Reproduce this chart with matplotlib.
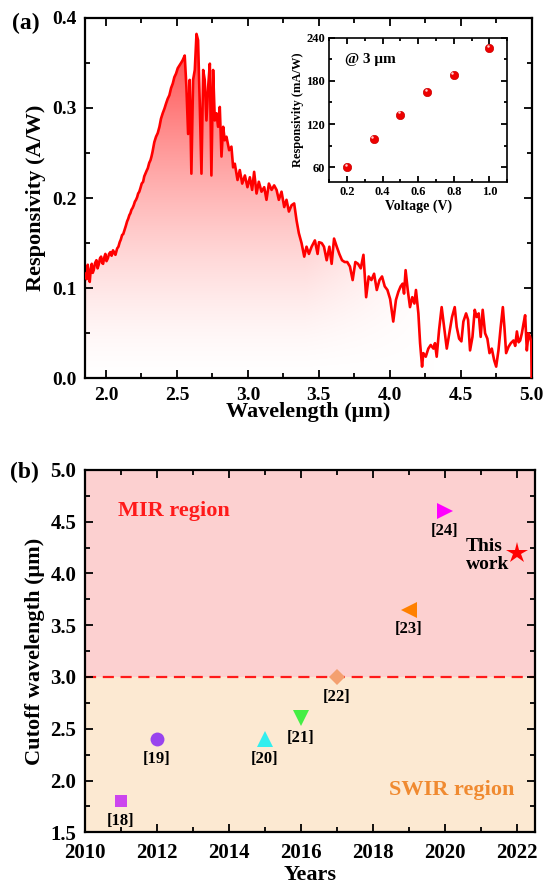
import numpy as np
import matplotlib
matplotlib.use('Agg')
import matplotlib.pyplot as plt
from matplotlib.ticker import MultipleLocator

plt.rcParams['font.family'] = ['Liberation Serif', 'DejaVu Serif']
plt.rcParams['font.weight'] = 'bold'
plt.rcParams['axes.labelweight'] = 'bold'

# ---- panel (a): responsivity spectrum ----
wavelength = [1.855, 1.864, 1.872, 1.879, 1.886, 1.893, 1.900, 1.907, 1.914, 1.924,
              1.933, 1.941, 1.949, 1.958, 1.966, 1.973, 1.980, 1.988, 1.996, 2.004,
              2.013, 2.022, 2.031, 2.040, 2.050, 2.058, 2.067, 2.079, 2.088, 2.097,
              2.105, 2.114, 2.122, 2.130, 2.140, 2.149, 2.157, 2.165, 2.172, 2.180,
              2.188, 2.196, 2.204, 2.212, 2.220, 2.227, 2.235, 2.243, 2.252, 2.262,
              2.270, 2.278, 2.286, 2.295, 2.305, 2.314, 2.321, 2.328, 2.341, 2.353,
              2.365, 2.377, 2.388, 2.400, 2.412, 2.424, 2.435, 2.447, 2.459, 2.471,
              2.482, 2.494, 2.506, 2.518, 2.530, 2.541, 2.555, 2.567, 2.579, 2.590,
              2.602, 2.614, 2.626, 2.638, 2.649, 2.661, 2.673, 2.685, 2.696, 2.708,
              2.720, 2.732, 2.743, 2.755, 2.767, 2.779, 2.790, 2.802, 2.814, 2.826,
              2.837, 2.849, 2.868, 2.884, 2.896, 2.908, 2.927, 2.943, 2.960, 2.979,
              2.997, 3.014, 3.030, 3.044, 3.061, 3.077, 3.096, 3.115, 3.131, 3.148,
              3.167, 3.185, 3.202, 3.218, 3.237, 3.256, 3.272, 3.289, 3.308, 3.326,
              3.343, 3.359, 3.378, 3.397, 3.413, 3.430, 3.449, 3.472, 3.491, 3.501,
              3.520, 3.536, 3.555, 3.574, 3.590, 3.607, 3.626, 3.644, 3.663, 3.682,
              3.700, 3.719, 3.738, 3.757, 3.776, 3.795, 3.814, 3.833, 3.851, 3.870,
              3.889, 3.908, 3.927, 3.945, 3.964, 3.983, 4.002, 4.024, 4.043, 4.060,
              4.076, 4.090, 4.100, 4.111, 4.126, 4.142, 4.158, 4.173, 4.184, 4.201,
              4.213, 4.227, 4.236, 4.253, 4.271, 4.288, 4.307, 4.318, 4.330, 4.347,
              4.365, 4.382, 4.401, 4.419, 4.438, 4.457, 4.471, 4.488, 4.504, 4.518,
              4.537, 4.551, 4.565, 4.582, 4.598, 4.612, 4.626, 4.640, 4.654, 4.671,
              4.687, 4.702, 4.718, 4.735, 4.749, 4.765, 4.781, 4.796, 4.807, 4.819,
              4.836, 4.852, 4.871, 4.883, 4.895, 4.907, 4.918, 4.930, 4.942, 4.953,
              4.965, 4.977, 4.988, 4.996, 4.999]
responsivity = [0.116, 0.110, 0.126, 0.112, 0.107, 0.121, 0.127, 0.117, 0.120, 0.128,
                0.131, 0.122, 0.126, 0.133, 0.135, 0.128, 0.127, 0.134, 0.138, 0.130,
                0.133, 0.138, 0.140, 0.136, 0.142, 0.139, 0.137, 0.144, 0.146, 0.151,
                0.154, 0.159, 0.160, 0.164, 0.169, 0.174, 0.177, 0.181, 0.183, 0.187,
                0.189, 0.192, 0.196, 0.198, 0.201, 0.205, 0.207, 0.211, 0.216, 0.218,
                0.224, 0.227, 0.230, 0.233, 0.239, 0.242, 0.246, 0.251, 0.262, 0.268,
                0.272, 0.279, 0.288, 0.294, 0.299, 0.305, 0.310, 0.314, 0.322, 0.327,
                0.334, 0.338, 0.344, 0.347, 0.350, 0.353, 0.358, 0.323, 0.271, 0.331,
                0.227, 0.331, 0.342, 0.382, 0.375, 0.305, 0.227, 0.342, 0.331, 0.286,
                0.323, 0.349, 0.225, 0.342, 0.286, 0.294, 0.279, 0.301, 0.246, 0.279,
                0.264, 0.268, 0.253, 0.257, 0.234, 0.238, 0.220, 0.231, 0.216, 0.225,
                0.212, 0.223, 0.209, 0.229, 0.205, 0.218, 0.207, 0.212, 0.198, 0.216,
                0.209, 0.214, 0.209, 0.198, 0.207, 0.190, 0.198, 0.185, 0.192, 0.194,
                0.175, 0.161, 0.150, 0.135, 0.146, 0.138, 0.146, 0.153, 0.138, 0.151,
                0.150, 0.146, 0.131, 0.146, 0.127, 0.155, 0.146, 0.138, 0.131, 0.129,
                0.129, 0.124, 0.109, 0.129, 0.127, 0.122, 0.137, 0.090, 0.113, 0.109,
                0.116, 0.098, 0.109, 0.113, 0.102, 0.098, 0.088, 0.063, 0.087, 0.096,
                0.102, 0.105, 0.094, 0.120, 0.098, 0.079, 0.090, 0.083, 0.098, 0.072,
                0.039, 0.013, 0.028, 0.024, 0.033, 0.037, 0.033, 0.039, 0.024, 0.054,
                0.079, 0.057, 0.033, 0.050, 0.068, 0.079, 0.057, 0.044, 0.041, 0.063,
                0.072, 0.065, 0.031, 0.046, 0.076, 0.068, 0.072, 0.046, 0.076, 0.050,
                0.044, 0.028, 0.033, 0.020, 0.013, 0.031, 0.057, 0.079, 0.057, 0.028,
                0.035, 0.039, 0.042, 0.036, 0.052, 0.040, 0.042, 0.050, 0.061, 0.070,
                0.031, 0.050, 0.046, 0.040, 0.0]

# inset: responsivity at 3 um vs bias
voltage = [0.2, 0.35, 0.5, 0.65, 0.8, 1.0]
resp_3um = [60, 99, 133, 164, 188, 225]

# ---- panel (b): cutoff wavelength vs year ----
years = [2011, 2012, 2015, 2016, 2017, 2019, 2020]
cutoff = [1.8, 2.4, 2.4, 2.6, 3.0, 3.65, 4.6]
refs = ['[18]', '[19]', '[20]', '[21]', '[22]', '[23]', '[24]']
markers = ['s', 'o', '^', 'v', 'D', '<', '>']
colors = ['#cc44ee', '#9944ee', '#33eeee', '#44ee44', '#f4a070', '#ff8000', '#ff00ff']
msizes = [8, 10, 11.5, 11.5, 8.5, 11, 11]
this_year = 2022
this_cutoff = 4.2

fig = plt.figure(figsize=(5.46, 8.84), dpi=100)


def style_axes(ax, lw=1.6, maj=6, mnr=3.5):
    for s in ax.spines.values():
        s.set_linewidth(lw)
    ax.tick_params(which='both', direction='in', top=True, right=True, width=1.3)
    ax.tick_params(which='major', length=maj)
    ax.tick_params(which='minor', length=mnr)


# panel (a)
ax1 = fig.add_axes([0.155, 0.572, 0.819, 0.408])
wl = np.array(wavelength)
rs = np.array(responsivity)

# gradient fill under the curve
xs = np.linspace(1.85, 5.0, 400)
ys = np.linspace(0, 0.385, 300)
XX, YY = np.meshgrid(xs, ys)
inten = (YY / 0.385) ** 1.5
fade = np.clip((4.3 - XX) / 0.9, 0, 1)
inten = inten * np.where(XX > 3.4, fade, 1.0)
top = np.array([1.0, 0.25, 0.25])
rgb = np.ones(XX.shape + (3,)) * (1 - inten[..., None]) + top * inten[..., None]
poly = ax1.fill_between(wl, rs, 0, facecolor='none', edgecolor='none')
img = ax1.imshow(rgb, extent=[1.85, 5.0, 0, 0.385], origin='lower', aspect='auto', zorder=1)
img.set_clip_path(poly.get_paths()[0], transform=ax1.transData)
ax1.plot(wl, rs, color='#ff0000', lw=1.9, zorder=3)
ax1.set_xlim(1.85, 5.0)
ax1.set_ylim(0, 0.4)

ax1.xaxis.set_major_locator(MultipleLocator(0.5))
ax1.xaxis.set_minor_locator(MultipleLocator(0.25))
ax1.yaxis.set_major_locator(MultipleLocator(0.1))
ax1.yaxis.set_minor_locator(MultipleLocator(0.05))
style_axes(ax1)
ax1.tick_params(labelsize=14, pad=6)
ax1.set_xlabel('Wavelength (μm)', fontsize=16, labelpad=-1)
ax1.set_ylabel('Responsivity (A/W)', fontsize=16, labelpad=4)
fig.text(12 / 546, 1 - 13 / 884, '(a)', fontsize=17, fontweight='bold', va='top', ha='left')

# inset
axi = fig.add_axes([0.603, 0.7945, 0.326, 0.163])
axi.plot(voltage, resp_3um, 'o', color='#ee0000', ms=6, mec='#cc0000', mew=0.5)
axi.plot(np.array(voltage) - 0.008, np.array(resp_3um) + 3, 'o', color='#ffd0d0', ms=1.8, mew=0)
axi.set_xlim(0.1, 1.1)
axi.set_ylim(40, 240)
axi.xaxis.set_major_locator(MultipleLocator(0.2))
axi.xaxis.set_minor_locator(MultipleLocator(0.1))
axi.yaxis.set_minor_locator(MultipleLocator(30))
axi.set_yticks([60, 120, 180, 240])
style_axes(axi, lw=1.2, maj=4, mnr=2.5)
axi.tick_params(labelsize=9, pad=3)
axi.set_xlabel('Voltage (V)', fontsize=10, labelpad=1)
axi.set_ylabel('Responsivity (mA/W)', fontsize=9, labelpad=2)
axi.text(0.186, 209, '@ 3 μm', fontsize=11, fontweight='bold', va='center', ha='left')

# panel (b)
ax2 = fig.add_axes([0.155, 0.0585, 0.824, 0.41])
ax2.set_xlim(2010, 2022.5)
ax2.set_ylim(1.5, 5.0)
ax2.axhspan(3.0, 5.0, color='#fcd0d0', zorder=0, lw=0)
ax2.axhspan(1.5, 3.0, color='#fce9d2', zorder=0, lw=0)
ax2.axhline(3.0, color='#ff1a1a', lw=1.6, ls=(0, (5, 3)), zorder=1)
for x, y, lab, m, c, s in zip(years, cutoff, refs, markers, colors, msizes):
    ax2.plot(x, y, marker=m, color=c, ms=s, mew=0, ls='none', zorder=3)
    ax2.text(x, y - 0.19, lab, fontsize=12, fontweight='bold', ha='center', va='center')
ax2.plot(this_year, this_cutoff, marker='*', color='#ff0000', ms=16, mew=0, zorder=3)
ax2.text(2020.6, 4.17, 'This\nwork', fontsize=14, fontweight='bold', ha='left', va='center',
         linespacing=1.1)
ax2.text(2010.94, 4.6, 'MIR region', color='#ff1a1a', fontsize=16, fontweight='bold',
         ha='left', va='center')
ax2.text(2018.47, 1.91, 'SWIR region', color='#f08a30', fontsize=16, fontweight='bold',
         ha='left', va='center')
ax2.xaxis.set_major_locator(MultipleLocator(2))
ax2.xaxis.set_minor_locator(MultipleLocator(1))
ax2.yaxis.set_major_locator(MultipleLocator(0.5))
ax2.yaxis.set_minor_locator(MultipleLocator(0.25))
style_axes(ax2)
ax2.tick_params(labelsize=15)
ax2.tick_params(axis='x', pad=8)
ax2.tick_params(axis='y', pad=6)
ax2.set_xlabel('Years', fontsize=16, labelpad=1)
ax2.set_ylabel('Cutoff wavelength (μm)', fontsize=16, labelpad=4)
fig.text(10 / 546, 1 - 462 / 884, '(b)', fontsize=17, fontweight='bold', va='top', ha='left')

fig.savefig('out.png', dpi=100)
